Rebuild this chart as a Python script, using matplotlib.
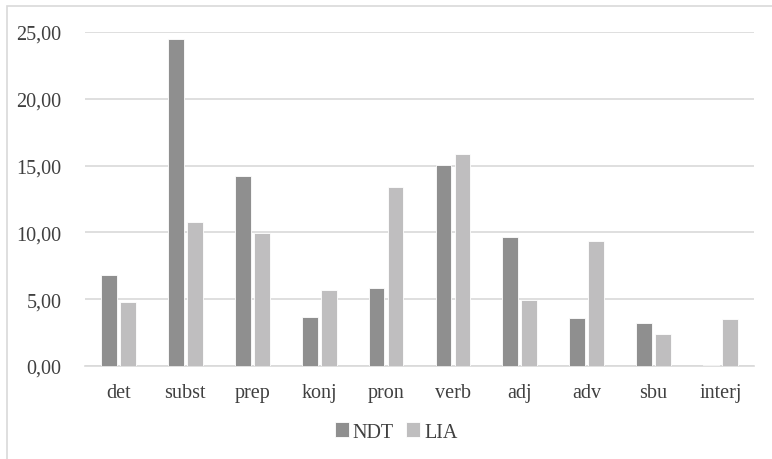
import matplotlib
matplotlib.use("Agg")
import matplotlib.pyplot as plt
import numpy as np
from matplotlib.patches import Rectangle
from matplotlib.font_manager import FontProperties

categories = ["det", "subst", "prep", "konj", "pron", "verb", "adj", "adv", "sbu", "interj"]
ndt = [6.79, 24.47, 14.21, 3.67, 5.87, 15.01, 9.62, 3.62, 3.25, 0.05]
lia = [4.77, 10.79, 9.99, 5.69, 13.41, 15.88, 4.97, 9.32, 2.40, 3.50]
yticks = [0, 5, 10, 15, 20, 25]
ytick_labels = ["0,00", "5,00", "10,00", "15,00", "20,00", "25,00"]

plt.rcParams['font.family'] = ['Liberation Serif', 'DejaVu Serif']
FS = 14.5
TXT = "#404040"

W, H = 772, 460
fig = plt.figure(figsize=(W / 100, H / 100), dpi=100)
ax = fig.add_axes([85 / W, 1 - 367 / H, (754 - 85) / W, (367 - 33) / H])

x = np.arange(len(categories))
off = 0.142
bw = 0.235
ax.bar(x - off, ndt, bw, color="#8f8f8f", edgecolor="white", linewidth=0.6, label="NDT", zorder=3)
ax.bar(x + off, lia, bw, color="#bfbebf", edgecolor="white", linewidth=0.6, label="LIA", zorder=3)

ax.set_xlim(-0.5, len(categories) - 0.5)
ax.set_ylim(0, 25)
ax.set_yticks(yticks)
ax.set_yticklabels(ytick_labels)
ax.set_xticks(x)
ax.set_xticklabels(categories)
ax.tick_params(axis="both", length=0, labelsize=FS, colors=TXT)
ax.tick_params(axis="y", pad=17)
ax.tick_params(axis="x", pad=12)
ax.yaxis.grid(True, color="#d9d9d9", linewidth=1.2, zorder=0)
ax.set_axisbelow(True)
for s in ["top", "right", "left"]:
    ax.spines[s].set_visible(False)
ax.spines["bottom"].set_color("#d9d9d9")
ax.spines["bottom"].set_linewidth(1.2)

prop = FontProperties(family=['Liberation Serif', 'DejaVu Serif'], size=FS)
leg = fig.legend(loc="center", bbox_to_anchor=(396 / W, 1 - 433 / H), ncol=2, frameon=False,
                 prop=prop, handlelength=0.7, handleheight=0.7, handletextpad=0.2,
                 columnspacing=0.6)
for t in leg.get_texts():
    t.set_color(TXT)

fig.patches.append(Rectangle((7 / W, -0.01), 1.02, 1 - 7 / H + 0.01, transform=fig.transFigure,
                             fill=False, edgecolor="#d9d9d9", linewidth=1.2))

fig.savefig("out.png", dpi=100, facecolor="white")
